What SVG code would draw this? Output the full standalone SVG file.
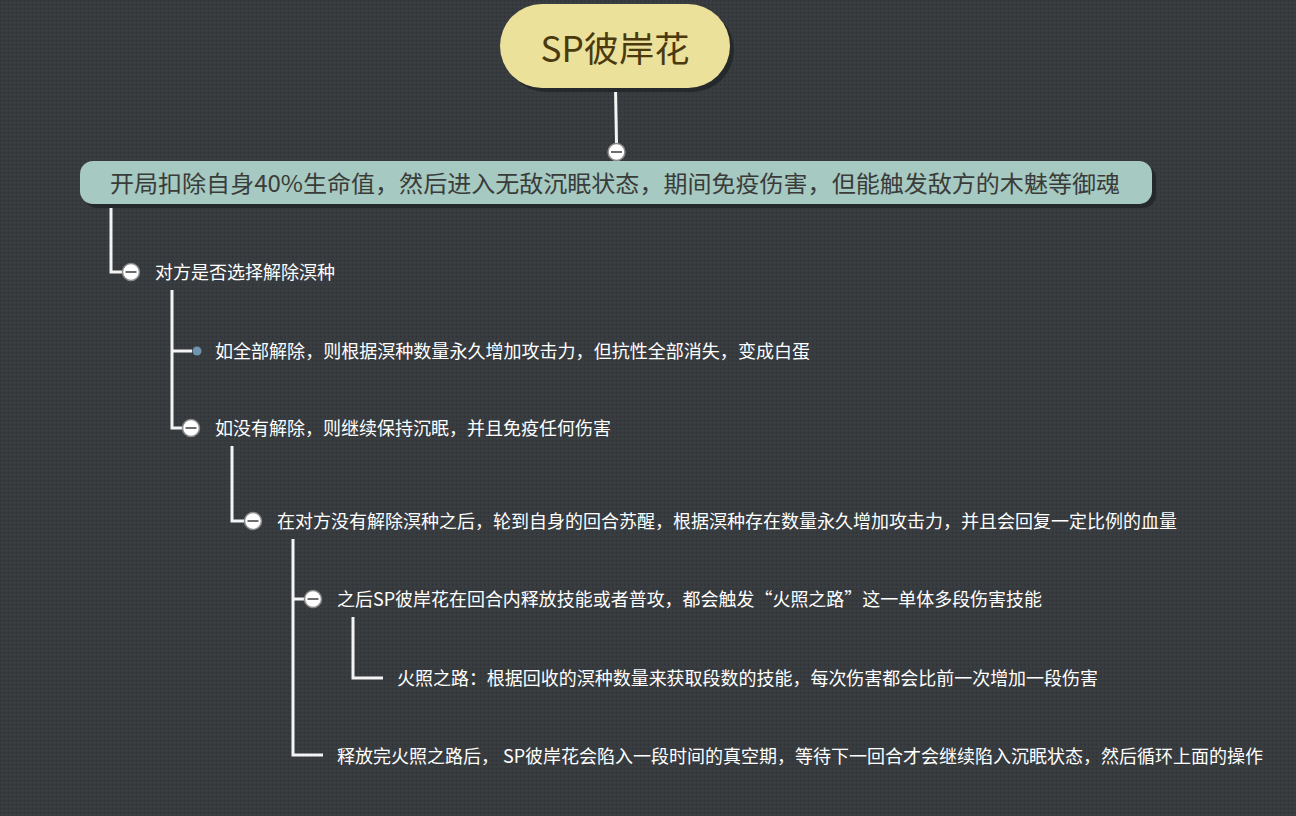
<svg xmlns="http://www.w3.org/2000/svg" width="1296" height="816" viewBox="0 0 1296 816">
<defs>
<pattern id="dots" width="4" height="4" patternUnits="userSpaceOnUse">
<rect width="4" height="4" fill="#383c3f"/>
<rect x="0" y="0" width="1.5" height="1.5" fill="#30343a"/>
<rect x="2" y="2" width="1" height="1" fill="#3d4245"/>
</pattern>
<style>
.conn{fill:none;stroke:#f4f4f4;stroke-width:3;stroke-linejoin:miter}
.btn{fill:#ffffff;stroke:#8a8a8a;stroke-width:1.5}
.minus{stroke:#6e6e6e;stroke-width:2}
.t{font-family:"Microsoft YaHei","Noto Sans CJK SC","Noto Sans",sans-serif;fill:#ffffff;font-size:18px}
</style>
</defs>
<rect width="1296" height="816" fill="url(#dots)"/>

<g id="connectors">
<path class="conn" d="M615.5 88 L616.5 143"/>
<path class="conn" d="M111 204 V272 H124"/>
<path class="conn" d="M172 290 V428 H183 M172 351 H192"/>
<path class="conn" d="M232 446 V521 H245"/>
<path class="conn" d="M293 539 V755 H323 M293 599 H305"/>
<path class="conn" d="M353 617 V678 H383"/>
</g>

<g id="root">
<rect x="504" y="8" width="230" height="84" rx="42" fill="#26292b"/>
<rect x="500" y="4" width="230" height="84" rx="42" fill="#ece19b"/>
<text x="615" y="62" text-anchor="middle" font-family="'Microsoft YaHei','Noto Sans CJK SC',sans-serif" font-size="35" fill="#4a3a0e" textLength="149" lengthAdjust="spacingAndGlyphs">SP彼岸花</text>
</g>

<g id="btn-root">
<circle class="btn" cx="616.5" cy="152" r="8.5"/>
<line class="minus" x1="611" y1="152" x2="622" y2="152"/>
</g>

<g id="n1">
<rect x="84" y="165" width="1072" height="43" rx="13" fill="#26292b"/>
<rect x="80" y="161" width="1072" height="43" rx="13" fill="#a6c9c1"/>
<text x="110" y="192" font-family="'Microsoft YaHei','Noto Sans CJK SC',sans-serif" font-size="23" fill="#3a3c3a" textLength="1010" lengthAdjust="spacingAndGlyphs">开局扣除自身40%生命值，然后进入无敌沉眠状态，期间免疫伤害，但能触发敌方的木魅等御魂</text>
</g>

<g id="n2">
<circle class="btn" cx="131" cy="272" r="8.5"/>
<line class="minus" x1="125.5" y1="272" x2="136.5" y2="272"/>
<text class="t" x="155" y="279" textLength="180" lengthAdjust="spacingAndGlyphs">对方是否选择解除溟种</text>
</g>

<g id="n3">
<circle cx="197" cy="351" r="4.5" fill="#6f94ad"/>
<text class="t" x="215" y="358" textLength="595" lengthAdjust="spacingAndGlyphs">如全部解除，则根据溟种数量永久增加攻击力，但抗性全部消失，变成白蛋</text>
</g>

<g id="n4">
<circle class="btn" cx="191" cy="428" r="8.5"/>
<line class="minus" x1="185.5" y1="428" x2="196.5" y2="428"/>
<text class="t" x="215" y="435" textLength="396" lengthAdjust="spacingAndGlyphs">如没有解除，则继续保持沉眠，并且免疫任何伤害</text>
</g>

<g id="n5">
<circle class="btn" cx="253" cy="521" r="8.5"/>
<line class="minus" x1="247.5" y1="521" x2="258.5" y2="521"/>
<text class="t" x="277" y="528" textLength="900" lengthAdjust="spacingAndGlyphs">在对方没有解除溟种之后，轮到自身的回合苏醒，根据溟种存在数量永久增加攻击力，并且会回复一定比例的血量</text>
</g>

<g id="n6">
<circle class="btn" cx="313" cy="599" r="8.5"/>
<line class="minus" x1="307.5" y1="599" x2="318.5" y2="599"/>
<text class="t" x="337" y="606" textLength="705" lengthAdjust="spacingAndGlyphs">之后SP彼岸花在回合内释放技能或者普攻，都会触发“火照之路”这一单体多段伤害技能</text>
</g>

<g id="n7">
<text class="t" x="397" y="685" textLength="701" lengthAdjust="spacingAndGlyphs">火照之路：根据回收的溟种数量来获取段数的技能，每次伤害都会比前一次增加一段伤害</text>
</g>

<g id="n8">
<text class="t" x="337" y="763" textLength="926" lengthAdjust="spacingAndGlyphs">释放完火照之路后， SP彼岸花会陷入一段时间的真空期，等待下一回合才会继续陷入沉眠状态，然后循环上面的操作</text>
</g>
</svg>
